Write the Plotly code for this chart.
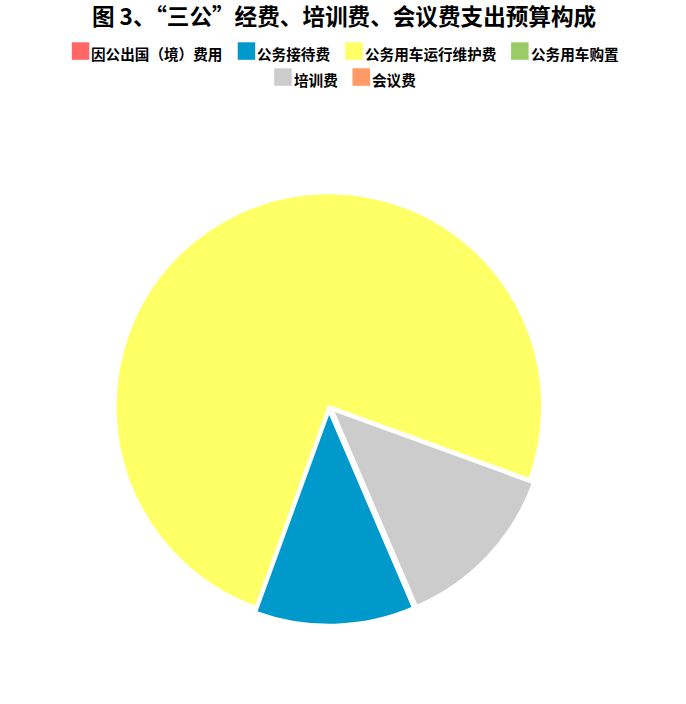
import plotly.graph_objects as go

# ---- data ----
categories = ["因公出国（境）费用", "公务接待费", "公务用车运行维护费", "公务用车购置", "培训费", "会议费"]
values = [0, 12, 75, 0, 13, 0]
pulls = [0, 1, 0, 0, 1, 0]          # slices offset from the centre in the original
colors = ["#ff6666", "#0099cc", "#ffff66", "#99cc66", "#cccccc", "#ff9966"]
title_text = "图 3、“三公”经费、培训费、会议费支出预算构成"

W, H = 686, 704
FONT = "Noto Sans CJK SC, Noto Sans, sans-serif"

def px_x(x):
    return x / W

def px_y(y):
    return 1 - y / H

# pie geometry (page pixels)
cx, cy, r = 328.9, 406.5, 213.5
pull_px = 5
p = pull_px / r
half = r * (1 + p)

fig = go.Figure(go.Pie(
    labels=categories,
    values=values,
    pull=[k * p for k in pulls],
    marker=dict(colors=colors, line=dict(color="white", width=2.5)),
    sort=False,
    direction="clockwise",
    rotation=156.8,
    textinfo="none",
    hoverinfo="label+value+percent",
    showlegend=False,
    domain=dict(x=[px_x(cx - half), px_x(cx + half)], y=[px_y(cy + half), px_y(cy - half)]),
))

# ---- custom legend (centered rows like the original) ----
fs = 14.6
sq = 17.5
gap_text = 1
gap_item = 16
rows = [[0, 1, 2, 3], [4, 5]]
row_sq_top = [42.3, 68.3]
center_x = 344.5

shapes = []
annotations = []
for ri, row in enumerate(rows):
    widths = [sq + gap_text + len(categories[i]) * fs for i in row]
    total = sum(widths) + gap_item * (len(row) - 1)
    x = center_x - total / 2
    top = row_sq_top[ri]
    for i, w in zip(row, widths):
        shapes.append(dict(
            type="rect", xref="paper", yref="paper",
            x0=px_x(x), x1=px_x(x + sq), y0=px_y(top + sq), y1=px_y(top),
            fillcolor=colors[i], line=dict(width=0),
        ))
        annotations.append(dict(
            xref="paper", yref="paper",
            x=px_x(x + sq + gap_text - 1), y=px_y(top + sq / 2 + 2.5),
            xanchor="left", yanchor="middle",
            text=categories[i], showarrow=False,
            font=dict(family=FONT, size=fs, color="#000000", weight="bold"),
        ))
        x += w + gap_item

fig.update_layout(
    width=W, height=H,
    margin=dict(l=0, r=0, t=0, b=0),
    paper_bgcolor="white", plot_bgcolor="white",
    title=dict(
        text=title_text, x=px_x(344), xanchor="center", xref="paper",
        y=px_y(17.5), yanchor="middle", yref="container",
        font=dict(family=FONT, size=22.6, color="#000000", weight="bold"),
    ),
    shapes=shapes,
    annotations=annotations,
)

# remove the browser's default 8px body margin so the figure sits at the page origin
fig.write_html(
    "out.html",
    config={"displayModeBar": False},
    post_script="document.body.style.margin='0';",
)
